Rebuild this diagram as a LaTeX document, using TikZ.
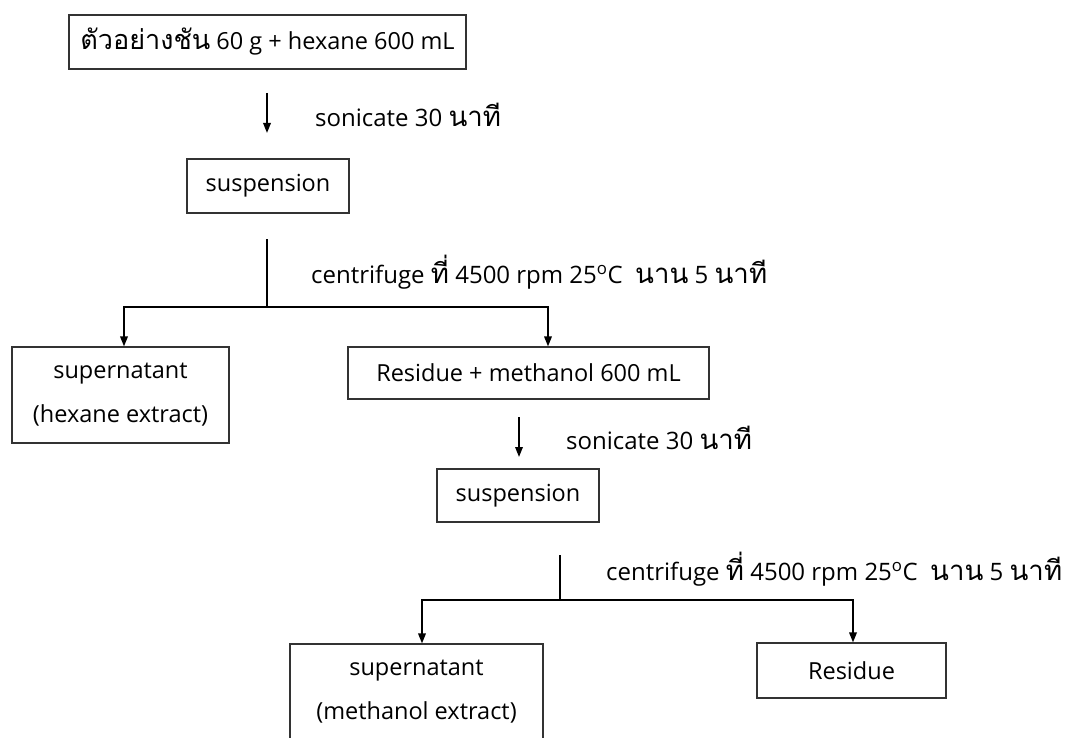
\documentclass[tikz,border=0pt]{standalone}
\usepackage{fontspec}
\setmainfont{Open Sans}
\newfontfamily\thai[Script=Thai,Scale=1.15]{Loma}
\usetikzlibrary{arrows.meta}
\begin{document}
\begin{tikzpicture}[x=1pt,y=-1pt,
  box/.style={draw=black!80, line width=1.1pt, inner sep=0pt, align=center,
    font=\fontsize{23.5}{44}\selectfont},
  lab/.style={anchor=west, inner sep=0pt, font=\fontsize{24}{28}\selectfont},
  conn/.style={line width=1.9pt},
  arr/.style={line width=1.7pt, -{Triangle[length=10pt,width=7.5pt]}}]
\useasboundingbox (0,0) rectangle (1081,738);
% boxes
\node[box, minimum width=397pt, minimum height=54pt] (b1) at (267.5,42)
  {{\thai ตัวอย่างชัน} 60 g + hexane 600 mL};
\node[box, minimum width=162pt, minimum height=54pt] (s1) at (268,186) {suspension};
\node[box, minimum width=217pt, minimum height=96pt] (sup1) at (120.5,395)
  {supernatant\\(hexane extract)};
\node[box, minimum width=361pt, minimum height=52pt] (rm) at (528.5,373)
  {Residue + methanol 600 mL};
\node[box, minimum width=162pt, minimum height=53pt] (s2) at (518,495.5) {suspension};
\node[box, minimum width=253pt, minimum height=96pt] (sup2) at (416.5,692)
  {supernatant\\(methanol extract)};
\node[box, minimum width=189pt, minimum height=55pt] (rd) at (851.5,670.5) {Residue};
% labels
\node[lab] (t1) at (315,115) {sonicate 30 {\thai นาที}};
\node[lab] (t2) at (311,272) {centrifuge {\thai ที่} 4500 rpm 25\textsuperscript{o}C\ \ {\thai นาน} 5 {\thai นาที}};
\node[lab] (t3) at (566,438) {sonicate 30 {\thai นาที}};
\node[lab] (t4) at (606,569) {centrifuge {\thai ที่} 4500 rpm 25\textsuperscript{o}C\ \ {\thai นาน} 5 {\thai นาที}};
% sonicate arrows
\coordinate (a1s) at (267,93); \coordinate (a1e) at (267,133);
\draw[arr] (a1s) -- (a1e);
\coordinate (a2s) at (519,417); \coordinate (a2e) at (519,457);
\draw[arr] (a2s) -- (a2e);
% branch 1
\coordinate (j1t) at (267,239); \coordinate (j1) at (267,307);
\coordinate (d1l) at (124,307); \coordinate (d1r) at (548,307);
\draw[conn] (j1t) -- (j1);
\draw[arr] (j1) -- (d1l) -- (d1l |- sup1.north);
\draw[arr] (j1) -- (d1r) -- (d1r |- rm.north);
% branch 2
\coordinate (j2t) at (560,555); \coordinate (j2) at (560,600);
\coordinate (d2l) at (422,600); \coordinate (d2r) at (853,600);
\draw[conn] (j2t) -- (j2);
\draw[arr] (j2) -- (d2l) -- (d2l |- sup2.north);
\draw[arr] (j2) -- (d2r) -- (d2r |- rd.north);
\end{tikzpicture}
\end{document}
